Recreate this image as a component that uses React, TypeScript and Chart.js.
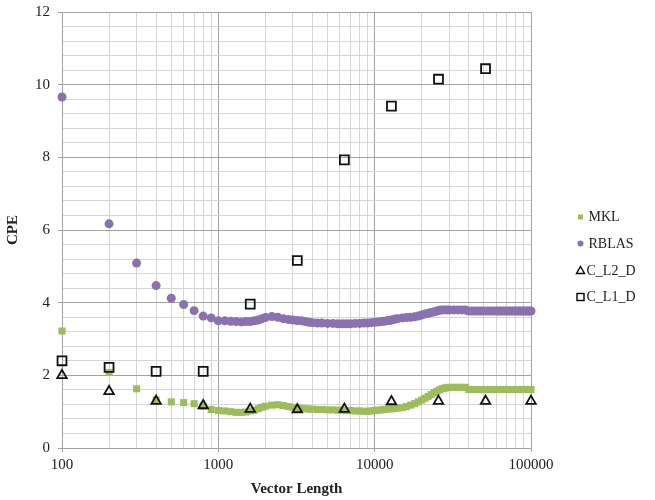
import React, { useEffect, useRef } from 'react';
import { Chart, registerables } from 'chart.js';

Chart.register(...registerables);

// Vector lengths sampled for MKL and RBLAS
const vectorLengths = [
  100, 200, 300, 400, 500, 600, 700, 800, 900, 1000,
  1100, 1200, 1300, 1400, 1500, 1600, 1700, 1800, 1900, 2000,
  2200, 2400, 2600, 2800, 3000, 3200, 3400, 3600, 3800, 4000,
  4300, 4600, 5000, 5400, 5800, 6200, 6600, 7000, 7500, 8000,
  8500, 9000, 9500, 10000, 10500, 11000, 11500, 12000, 12500, 13000,
  13500, 14000, 15000, 16000, 17000, 18000, 19000, 20000, 21000, 22000,
  23000, 24000, 25000, 26000, 27000, 28000, 29000, 30000, 32000, 34000,
  36000, 38000, 40000, 42000, 44000, 46000, 48000, 50000, 52500, 55000,
  57500, 60000, 62500, 65000, 67500, 70000, 72500, 75000, 77500, 80000,
  82500, 85000, 87500, 90000, 92500, 95000, 97500, 100000,
];

const mklCPE = [
  3.22, 2.08, 1.63, 1.32, 1.27, 1.25, 1.22, 1.15, 1.06, 1.03,
  1.02, 1.0, 0.98, 0.98, 0.99, 1.02, 1.04, 1.08, 1.12, 1.15,
  1.18, 1.19, 1.17, 1.14, 1.12, 1.1, 1.09, 1.08, 1.07, 1.07,
  1.06, 1.06, 1.05, 1.05, 1.04, 1.04, 1.03, 1.03, 1.02, 1.02,
  1.01, 1.01, 1.02, 1.03, 1.04, 1.05, 1.06, 1.07, 1.08, 1.08,
  1.09, 1.1, 1.11, 1.14, 1.18, 1.22, 1.27, 1.32, 1.37, 1.42,
  1.47, 1.52, 1.56, 1.6, 1.63, 1.65, 1.66, 1.67, 1.67, 1.67,
  1.67, 1.67, 1.61, 1.61, 1.61, 1.61, 1.61, 1.61, 1.61, 1.61,
  1.61, 1.61, 1.61, 1.61, 1.61, 1.61, 1.61, 1.61, 1.61, 1.61,
  1.61, 1.61, 1.61, 1.61, 1.61, 1.61, 1.61, 1.61,
];

const rblasCPE = [
  9.66, 6.17, 5.09, 4.47, 4.12, 3.95, 3.78, 3.63, 3.58, 3.5,
  3.5, 3.49, 3.48, 3.47, 3.48, 3.48, 3.5, 3.52, 3.56, 3.59,
  3.62, 3.6, 3.56, 3.54, 3.52, 3.51, 3.5, 3.48, 3.46, 3.45,
  3.44, 3.44, 3.43, 3.43, 3.42, 3.42, 3.42, 3.42, 3.43, 3.43,
  3.44, 3.44, 3.45, 3.46, 3.47, 3.48, 3.49, 3.5, 3.51, 3.53,
  3.55, 3.56, 3.58, 3.59, 3.6, 3.61, 3.63, 3.66, 3.69, 3.71,
  3.73, 3.75, 3.77, 3.79, 3.8, 3.8, 3.8, 3.8, 3.8, 3.8,
  3.8, 3.8, 3.77, 3.77, 3.77, 3.77, 3.77, 3.77, 3.77, 3.77,
  3.77, 3.77, 3.77, 3.77, 3.77, 3.77, 3.77, 3.77, 3.77, 3.77,
  3.77, 3.77, 3.77, 3.77, 3.77, 3.77, 3.77, 3.77,
];

const cL2Lengths = [100, 200, 400, 800, 1600, 3200, 6400, 12800, 25600, 51200, 100000];
const cL2CPE = [2.0, 1.56, 1.29, 1.17, 1.07, 1.06, 1.07, 1.28, 1.29, 1.29, 1.29];

const cL1Lengths = [100, 200, 400, 800, 1600, 3200, 6400, 12800, 25600, 51200];
const cL1CPE = [2.4, 2.22, 2.11, 2.11, 3.96, 5.16, 7.93, 9.41, 10.15, 10.44];

const xTickValues = [
  100, 200, 300, 400, 500, 600, 700, 800, 900,
  1000, 2000, 3000, 4000, 5000, 6000, 7000, 8000, 9000,
  10000, 20000, 30000, 40000, 50000, 60000, 70000, 80000, 90000,
  100000,
];
const xLabelValues = [100, 1000, 10000, 100000];

const yTickValues = [
  0, 0.4, 0.8, 1.2, 1.6, 2, 2.4, 2.8, 3.2, 3.6, 4, 4.4, 4.8, 5.2, 5.6, 6,
  6.4, 6.8, 7.2, 7.6, 8, 8.4, 8.8, 9.2, 9.6, 10, 10.4, 10.8, 11.2, 11.6, 12,
];
const yLabelValues = [0, 2, 4, 6, 8, 10, 12];

const FONT = "'Liberation Serif', 'Times New Roman', serif";
const GREEN = '#9dbd5c';
const PURPLE = '#8a72b0';
const MAJOR = '#a3a3a3';
const MINOR = '#d6d6d6';

const toPoints = (xs: number[], ys: number[]) => xs.map((x, i) => ({ x, y: ys[i] }));

const legendPlugin = {
  id: 'sideLegend',
  afterDraw(chart: any) {
    const ctx = chart.ctx as CanvasRenderingContext2D;
    const styles = ['greenRect', 'purpleCircle', 'triangle', 'square'];
    const ys = [217, 243.5, 270.5, 297];
    ctx.save();
    chart.data.datasets.forEach((ds: any, i: number) => {
      const y = ys[i];
      const mx = 580.5;
      const style = styles[i];
      ctx.lineWidth = 1.4;
      ctx.strokeStyle = '#000';
      if (style === 'greenRect') {
        ctx.fillStyle = GREEN;
        ctx.fillRect(mx - 2.5, y - 2.5, 5, 5);
      } else if (style === 'purpleCircle') {
        ctx.fillStyle = PURPLE;
        ctx.beginPath();
        ctx.arc(mx, y, 3, 0, Math.PI * 2);
        ctx.fill();
      } else if (style === 'triangle') {
        ctx.beginPath();
        ctx.moveTo(mx, y - 4);
        ctx.lineTo(mx + 4, y + 3);
        ctx.lineTo(mx - 4, y + 3);
        ctx.closePath();
        ctx.stroke();
      } else {
        ctx.strokeRect(mx - 3.5, y - 3.5, 7, 7);
      }
      ctx.fillStyle = '#222';
      ctx.font = `14px ${FONT}`;
      ctx.textBaseline = 'middle';
      ctx.textAlign = 'left';
      ctx.fillText(ds.label, i < 2 ? 588.5 : 586.5, y + 0.5);
    });
    ctx.restore();
  },
};

export default function App() {
  const canvasRef = useRef<HTMLCanvasElement | null>(null);

  useEffect(() => {
    document.body.style.margin = '0';
    const canvas = canvasRef.current;
    if (!canvas) return;

    const chart = new Chart(canvas, {
      type: 'scatter',
      data: {
        datasets: [
          {
            label: 'MKL',
            data: toPoints(vectorLengths, mklCPE),
            pointStyle: 'rect',
            pointRadius: 5,
            borderWidth: 0,
            backgroundColor: GREEN,
            borderColor: GREEN,
            order: 4,
            clip: false,
          },
          {
            label: 'RBLAS',
            data: toPoints(vectorLengths, rblasCPE),
            pointStyle: 'circle',
            pointRadius: 4.5,
            borderWidth: 0,
            backgroundColor: PURPLE,
            borderColor: PURPLE,
            order: 3,
            clip: false,
          },
          {
            label: 'C_L2_D',
            data: toPoints(cL2Lengths, cL2CPE),
            pointStyle: 'triangle',
            pointRadius: 5.5,
            borderWidth: 1.8,
            backgroundColor: 'rgba(0,0,0,0)',
            borderColor: '#111',
            order: 2,
            clip: false,
          },
          {
            label: 'C_L1_D',
            data: toPoints(cL1Lengths, cL1CPE),
            pointStyle: 'rect',
            pointRadius: 6.3,
            borderWidth: 1.8,
            backgroundColor: 'rgba(0,0,0,0)',
            borderColor: '#111',
            order: 1,
            clip: false,
          },
        ] as any,
      },
      options: {
        animation: false,
        responsive: true,
        maintainAspectRatio: false,
        layout: { padding: { top: 12, right: 124, left: 0, bottom: 0 } },
        plugins: {
          legend: { display: false },
          tooltip: { enabled: false },
        },
        scales: {
          x: {
            type: 'logarithmic',
            min: 100,
            max: 100000,
            afterBuildTicks: (scale: any) => {
              scale.ticks = xTickValues.map((v) => ({ value: v, major: xLabelValues.includes(v) }));
            },
            afterFit: (scale: any) => {
              scale.height = 52;
              scale.paddingLeft = 0;
              scale.paddingRight = 0;
            },
            ticks: {
              autoSkip: false,
              maxRotation: 0,
              padding: 4,
              color: '#222',
              font: { family: FONT, size: 15 },
              callback: (value: any) => (xLabelValues.includes(Number(value)) ? String(value) : ''),
            },
            grid: {
              color: (c: any) => (xLabelValues.includes(c.tick?.value) ? MAJOR : MINOR),
              tickColor: (c: any) => (xLabelValues.includes(c.tick?.value) ? MAJOR : 'rgba(0,0,0,0)'),
              tickLength: 4,
              lineWidth: 1,
            },
            border: { color: MAJOR, width: 1 },
            title: {
              display: true,
              text: 'Vector Length',
              color: '#222',
              font: { family: FONT, size: 15, weight: 'bold' },
              padding: { top: 2, bottom: 2 },
            },
          },
          y: {
            type: 'linear',
            min: 0,
            max: 12,
            afterBuildTicks: (scale: any) => {
              scale.ticks = yTickValues.map((v) => ({ value: v }));
            },
            afterFit: (scale: any) => {
              scale.width = 62;
              scale.paddingTop = 0;
              scale.paddingBottom = 0;
            },
            ticks: {
              autoSkip: false,
              padding: 8,
              color: '#222',
              font: { family: FONT, size: 15 },
              callback: (value: any) => (yLabelValues.includes(Number(value)) ? String(value) : ''),
            },
            grid: {
              color: (c: any) => (yLabelValues.includes(c.tick?.value) ? MAJOR : MINOR),
              tickColor: (c: any) => (yLabelValues.includes(c.tick?.value) ? MAJOR : 'rgba(0,0,0,0)'),
              tickLength: 4,
              lineWidth: 1,
            },
            border: { color: MAJOR, width: 1 },
            title: {
              display: true,
              text: 'CPE',
              color: '#222',
              font: { family: FONT, size: 15, weight: 'bold' },
              padding: { top: 4, bottom: 4 },
            },
          },
        },
      } as any,
      plugins: [legendPlugin],
    });

    return () => {
      chart.destroy();
    };
  }, []);

  return (
    <div style={{ position: 'relative', width: 655, height: 500 }}>
      <canvas ref={canvasRef} />
    </div>
  );
}
